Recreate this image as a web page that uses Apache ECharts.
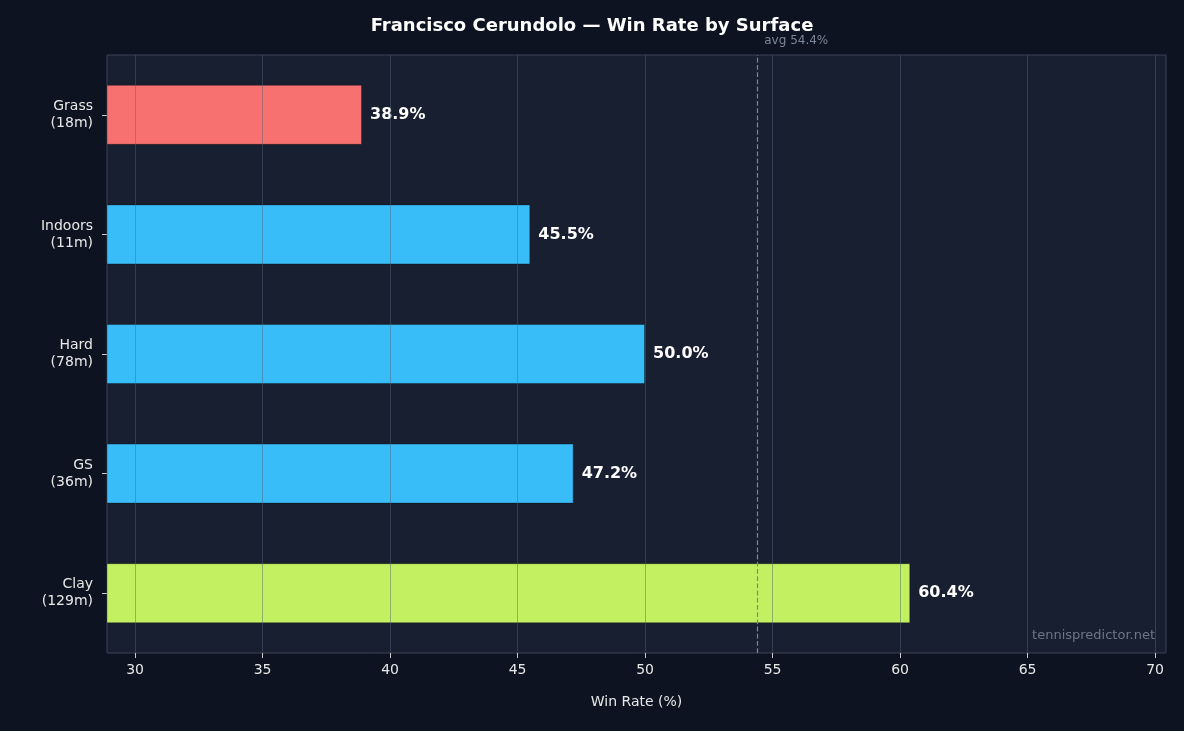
<!DOCTYPE html>
<html><head><meta charset="utf-8">
<script src="https://cdn.jsdelivr.net/npm/echarts@6/dist/echarts.min.js"></script>
<style>html,body{margin:0;background:#0d1320;}#c{width:1184px;height:731px;}</style>
</head><body><div id="c"></div>
<script>
const categories = ['Clay\n(129m)','GS\n(36m)','Hard\n(78m)','Indoors\n(11m)','Grass\n(18m)'];
const winRates = [60.4, 47.2, 50.0, 45.5, 38.9];
const barColors = ['#c2f060','#38bdf8','#38bdf8','#38bdf8','#f87171'];
const xTicks = [30,35,40,45,50,55,60,65,70];
const avgRate = 54.4;

const chart = echarts.init(document.getElementById('c'));
chart.setOption({
  backgroundColor:'#0d1320',
  textStyle:{fontFamily:'DejaVu Sans'},
  title:{text:'Francisco Cerundolo — Win Rate by Surface',left:'center',top:12,
    textStyle:{color:'#ffffff',fontSize:18,fontWeight:'bold',fontFamily:'DejaVu Sans'}},
  grid:{left:107,right:18,top:55,bottom:78,show:true,backgroundColor:'#181f30',borderColor:'#3a4556',borderWidth:1},
  xAxis:{type:'value',min:28.9,max:70.43,
    axisLine:{show:false},splitLine:{show:false},
    axisTick:{show:true,customValues:xTicks,length:5,lineStyle:{color:'#cccccc'}},
    axisLabel:{customValues:xTicks,color:'#e8e8e8',fontSize:14,margin:10},
    name:'Win Rate (%)',nameLocation:'middle',nameGap:42,nameTextStyle:{color:'#e8e8e8',fontSize:14}},
  yAxis:{type:'category',data:categories,
    axisLine:{show:false},axisTick:{show:true,length:5,alignWithLabel:true,lineStyle:{color:'#cccccc'}},
    axisLabel:{color:'#e8e8e8',fontSize:14,align:'right',lineHeight:17,margin:14}},
  series:[
    {type:'bar',data:winRates.map((v,i)=>({value:v,itemStyle:{color:barColors[i]}})),
     barWidth:60,itemStyle:{borderColor:'rgba(0,0,0,0.3)',borderWidth:1},
     label:{show:true,position:'right',distance:8,color:'#ffffff',fontSize:16,fontWeight:'bold',formatter:p=>p.value.toFixed(1)+'%'},
     markLine:{silent:true,symbol:'none',data:[{xAxis:avgRate}],
       lineStyle:{color:'#7c8799',type:'dashed',width:1.2},
       label:{show:true,position:'end',formatter:'avg '+avgRate+'%',color:'#7c8799',fontSize:12,align:'left',offset:[7,-3]}}},
    {type:'line',data:[],z:5,
     markLine:{silent:true,symbol:'none',data:xTicks.map(t=>({xAxis:t})),
       lineStyle:{color:'rgba(80,100,120,0.45)',type:'solid',width:1},label:{show:false}}}
  ],
  graphic:[{type:'text',right:29,top:629,style:{text:'tennispredictor.net',fill:'#6b7585',fontSize:13,fontFamily:'DejaVu Sans'}}]
});
</script></body></html>
